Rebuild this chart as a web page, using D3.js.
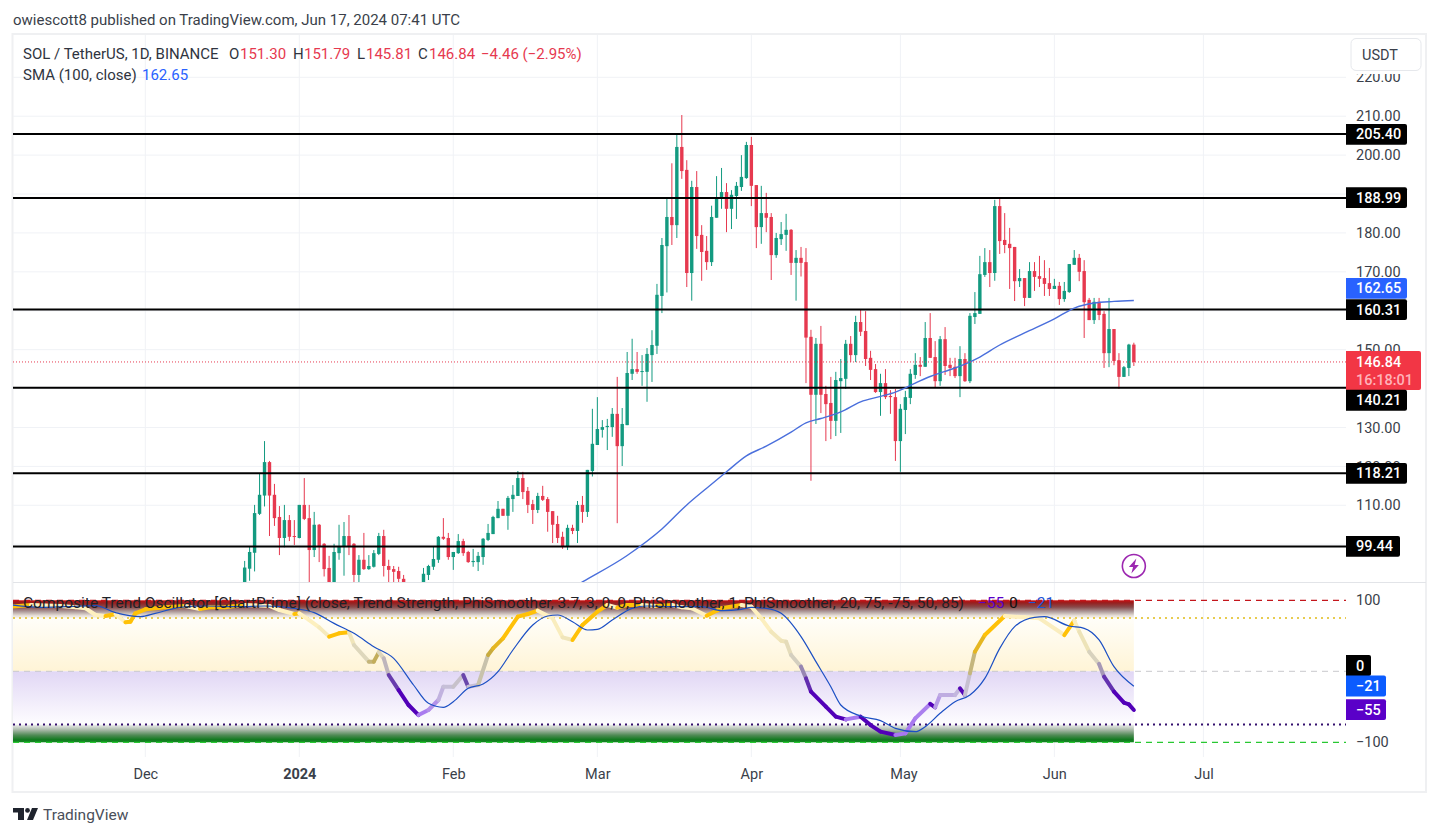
<!DOCTYPE html>
<html><head><meta charset="utf-8">
<script src="https://cdn.jsdelivr.net/npm/d3@7"></script>
<style>
html,body{margin:0;padding:0;background:#fff;overflow:hidden}
svg{display:block}
text{font-family:Roboto,"Noto Sans",sans-serif}
</style></head><body>
<svg id="c" width="1439" height="836"></svg>
<script>
// ---------- data: daily candles, first day = firstCandleDay, day numbers counted from 2024-01-01
const firstCandleDay = -11;
const opens = [88.2,93.7,97.8,107.8,112.5,121.1,112.7,107.0,101.6,106.2,102.1,
101.6,110.1,106.7,98.5,105.0,100.1,93.9,89.1,97.7,99.3,
102.1,100.1,92.1,96.0,93.6,94.2,97.5,102.1,94.4,93.6,
93.1,91.1,89.1,87.5,85.5,86.5,92.1,94.2,96.0,101.9,
101.6,96.7,97.7,100.8,98.0,95.4,95.4,96.7,101.1,102.6,
106.7,109.1,107.3,111.6,112.4,117.0,113.7,110.3,108.8,112.4,
111.6,108.5,105.2,101.9,99.5,104.2,103.4,110.1,108.3,118.8,
125.5,129.4,130.1,130.1,133.5,125.2,130.6,143.8,145.0,144.3,
144.3,148.6,151.0,163.8,176.6,184.1,182.0,202.1,196.2,169.7,
191.8,179.5,175.4,172.5,183.9,189.0,190.5,186.2,189.5,191.8,
194.1,202.6,192.3,181.5,185.1,184.1,174.3,178.4,179.5,180.8,
172.3,173.6,172.5,153.3,138.4,151.5,138.6,136.3,131.7,141.9,
142.5,151.5,148.6,157.1,154.8,147.9,145.0,139.1,141.4,138.1,
137.8,126.5,134.5,137.6,143.5,146.1,145.6,153.0,148.1,141.9,
152.7,146.1,145.6,143.2,147.6,141.9,158.4,159.2,169.2,172.5,
169.7,186.9,178.2,177.2,176.4,167.6,168.4,163.3,170.2,168.9,
168.4,167.1,165.6,166.4,163.0,164.8,171.8,173.6,170.2,162.8,
157.6,162.3,159.2,149.1,155.3,147.3,143.0,145.3,151.30];
const highs = [95.7,99.5,110.1,118.2,126.5,121.4,115.5,109.8,110.1,107.5,106.2,
110.1,117.0,110.1,108.3,105.2,100.3,97.0,100.1,105.0,105.7,
107.5,100.3,97.2,102.9,97.2,98.5,102.9,103.7,96.0,94.4,
94.2,92.1,89.5,88.5,87.5,93.9,94.7,99.5,102.1,106.7,
102.9,98.0,102.6,101.4,98.3,98.8,98.0,101.6,105.2,107.3,
111.1,109.1,112.4,115.2,118.8,118.6,114.7,111.4,113.2,115.0,
112.1,108.5,107.3,103.2,105.0,105.0,111.1,112.4,119.1,134.8,
137.8,131.9,132.2,135.0,143.0,135.0,149.4,152.8,149.4,148.6,
150.4,155.0,166.9,178.7,189.2,197.9,205.4,210.3,198.7,193.4,
195.9,182.0,179.2,187.0,194.6,196.7,192.8,191.0,193.1,200.0,
203.4,204.7,192.3,192.1,190.3,185.1,180.0,182.8,184.9,181.0,
175.6,176.4,176.1,155.1,153.0,156.1,140.7,143.0,144.3,147.6,
152.5,153.5,158.7,160.2,159.9,149.7,146.3,143.8,145.0,139.6,
139.9,136.0,139.4,145.0,149.1,148.1,157.1,159.4,152.2,153.5,
155.8,147.9,147.9,150.9,149.1,159.4,164.8,174.1,176.1,175.6,
188.5,189.0,185.1,181.3,176.4,170.7,168.4,172.5,172.5,174.1,
173.0,171.0,168.2,167.4,167.4,172.0,175.6,174.6,173.0,163.3,
163.3,163.3,159.9,163.3,155.3,149.1,145.8,151.5,151.79];
const lows = [86.5,90.6,93.0,107.5,109.7,102.1,104.7,97.2,99.2,100.8,99.8,
101.5,106.2,88.2,96.7,95.4,91.7,86.5,87.4,96.0,91.9,
97.2,89.1,89.1,93.4,93.4,94.0,97.2,91.7,89.5,90.0,
89.5,87.8,86.5,84.5,84.0,85.0,90.8,93.4,95.2,101.1,
96.0,93.4,97.5,97.0,95.2,94.2,93.1,94.7,100.8,102.6,
106.7,107.3,103.7,108.3,112.4,111.6,108.0,105.2,108.0,111.1,
103.2,100.3,100.3,98.8,98.5,102.6,100.3,105.5,107.0,117.4,
125.5,127.4,124.2,127.6,105.4,120.1,130.6,142.2,143.8,140.7,
136.6,141.7,148.9,159.4,164.7,176.9,178.7,193.9,166.1,162.6,
175.9,167.7,170.5,171.5,183.9,186.2,180.2,181.0,183.6,190.8,
193.9,186.9,176.1,177.2,180.2,167.9,173.6,176.9,175.4,169.2,
162.6,168.8,141.4,116.3,130.9,133.7,126.5,127.0,127.8,128.6,
139.9,146.8,146.8,153.5,145.8,142.2,138.9,133.0,137.3,133.5,
121.4,118.6,128.3,136.0,142.5,143.2,145.6,147.9,140.2,140.7,
143.5,143.2,142.7,137.8,141.7,141.4,156.6,159.2,168.7,166.1,
167.7,174.6,174.8,165.6,162.5,166.1,161.2,163.3,165.1,166.1,
163.8,163.8,165.6,161.5,162.3,164.6,171.8,167.6,153.0,157.6,
156.6,157.6,145.3,145.5,146.0,139.9,143.0,143.2,145.81];
const closes = [94.0,98.0,108.0,112.7,121.1,112.5,106.7,101.6,106.2,101.9,101.9,
110.1,106.5,98.5,105.0,99.5,93.6,88.2,98.0,99.5,102.1,
99.5,92.1,96.0,93.6,94.4,97.7,102.1,94.4,93.4,92.9,
91.1,89.1,87.5,86.0,86.5,92.4,94.4,96.2,101.9,101.4,
96.7,98.0,100.8,97.7,95.4,95.7,97.0,101.4,102.9,107.0,
109.1,107.3,111.9,112.7,117.0,113.4,110.1,108.8,112.4,111.4,
108.3,105.0,101.6,99.3,104.2,103.4,110.1,108.3,119.1,125.8,
129.6,130.1,130.4,133.5,125.2,130.9,144.0,145.0,144.3,144.5,
148.9,151.2,164.1,176.9,184.1,182.0,202.1,195.9,169.7,191.8,
179.2,175.1,172.5,184.1,189.2,190.5,186.2,189.8,192.1,194.4,
202.6,192.1,181.5,185.1,183.9,174.3,178.7,179.7,180.8,172.3,
173.6,172.3,153.1,138.4,151.5,138.4,136.0,131.7,142.2,142.7,
151.5,148.6,157.1,154.6,147.6,144.8,139.1,141.4,137.8,137.8,
126.5,134.8,137.8,143.8,146.1,145.6,153.0,147.9,141.9,152.7,
145.8,145.3,143.2,147.6,141.9,158.7,159.4,169.4,172.5,169.7,
186.9,177.9,176.9,176.1,167.6,168.4,163.3,170.2,168.7,168.2,
166.9,165.6,166.4,163.0,165.1,172.0,173.6,170.0,162.2,157.6,
162.3,158.9,149.1,155.3,147.1,143.0,145.5,151.3,146.84];

const smaDays =   [50,57,66,73,78,82,86,90,94,99,102,105,109,113,117,120,124,127,130,134,137,141,146,152,156,160,164,168];
const smaValues = [85.0,90.3,97.1,103.9,110.1,114.4,118.6,122.7,125.2,128.8,131.2,132.3,134.0,136.6,138.0,139.1,141.4,143.1,144.4,146.3,148.1,151.2,154.3,157.9,160.7,162.0,162.4,162.65];

const oscDays = [-58,-54,-48,-45,-43,-41,-39,-37,-35,-34,-33,-31,-27,-23,-20,-18,-15,-11,-6,-4,-1,0,2,4,6,8,10,11,14,15,16,17,18,20,22,24,26,28,29,31,33,34,36,38,39,41,44,46,48,51,53,55,57,60,62,64,66,69,72,75,77,79,82,84,85,89,91,93,95,97,98,99,101,102,103,106,108,110,113,115,117,120,122,124,127,128,129,132,133,134,135,136,138,142,146,149,154,156,157,159,161,162,164,166,167,168];
const oscValues = [91,93.4,92,90.1,88.7,79.3,77.9,80.7,69,69.9,81.6,87.3,90.1,92,87.7,90.1,90.1,93.4,92,86.3,80.7,81.6,72.2,61.9,48.8,53.5,54.9,37,13.6,13.6,26.7,18.2,-5.2,-26.4,-47.5,-61.6,-54.5,-40.4,-21.7,-21.7,-5.2,-21.7,-19.3,23,32.3,46.4,77,80.7,85.4,74.6,47.8,44.1,65.2,84,93.4,89.6,93.4,93.4,92,93.4,90.1,88.7,78.3,85.4,88.7,93.4,91,74.6,55.8,43.1,41.7,23,6.5,-9.9,-28.7,-49.8,-63.9,-67.7,-63.9,-75.7,-85,-89.7,-87.4,-66.3,-46,-50.8,-33.4,-33.4,-24,-33.4,-2.9,27.6,51.1,77.9,76,74.6,51.1,71.3,55.8,27.6,10.3,-7.6,-28.7,-44.2,-46.5,-54.5];
const sigDays = [-58,-52,-47,-41,-37,-32,-29,-24,-19,-12,-7,-1,3,7,11,15,19,23,26,29,31,34,37,40,43,47,50,52,55,58,60,63,67,70,75,81,85,89,91,94,97,101,104,107,109,113,117,120,124,126,129,132,135,138,141,144,148,150,155,158,161,164,168];
const sigValues = [93.4,90.1,91,92.4,82.6,76.9,81.6,90.1,92,91,92,88.7,82.6,67.5,53.5,34.7,18.3,-19.3,-45.1,-50.8,-42.8,-24,-17.9,-0.5,30,65.2,77.9,79.3,69.9,58.2,59.1,72.2,88.7,92,91,91,85.4,87.3,90.1,88.7,81.6,48.8,13.6,-21.7,-47.5,-63,-69.5,-80.3,-85,-78,-59.2,-42.8,-33.4,-9.9,32.3,62.9,76,76.9,63.8,60.5,44.1,6.5,-21];

const levels = [205.40,188.99,160.31,140.21,118.21,99.44];
const gridTicks = [220,210,200,190,180,170,160,150,140,130,120,110,100];
const priceTicks = [220,210,200,180,170,150,130,120,110];
const oscTicks = [100,-100];
const monthDays = [-31,0,31,60,91,121,152,182];
const monthLabels = ["Dec","2024","Feb","Mar","Apr","May","Jun","Jul"];
const title = "owiescott8 published on TradingView.com, Jun 17, 2024 07:41 UTC";
const oscName = "Composite Trend Oscillator [ChartPrime] (close, Trend Strength, PhiSmoother, 3.7, 3, 0, 0, PhiSmoother, 1, PhiSmoother, 20, 75, -75, 50, 85)";

// ---------- scales
const day = i => new Date(Date.UTC(2024,0,1+i));
const L=13, R=1346, PT=35, PB=582, OT=583, OB=757, FR=1426, FB=792;
const x = d3.scaleUtc().domain([day(0),day(182)]).range([299.3,1203.4]);
const y = d3.scaleLinear().domain([220,100]).range([77.3,544.2]);
const yo = d3.scaleLinear().domain([100,-100]).range([600.3,742.3]);
const svg = d3.select("#c");
const UP="#139a80", DN="#e6394f", TXT="#3a3f4a";

const defs = svg.append("defs");
defs.append("clipPath").attr("id","pc").append("rect").attr("x",L).attr("y",PT).attr("width",R-L).attr("height",PB-PT);
defs.append("clipPath").attr("id","oc").append("rect").attr("x",L).attr("y",OT).attr("width",R-L).attr("height",OB-OT);
defs.append("clipPath").attr("id","ac").append("rect").attr("x",R).attr("y",74).attr("width",80).attr("height",PB-74);
function grad(id,stops){
  const g=defs.append("linearGradient").attr("id",id).attr("x1",0).attr("y1",0).attr("x2",0).attr("y2",1);
  stops.forEach(s=>g.append("stop").attr("offset",s[0]).attr("stop-color",s[1]));
}
grad("gTop",[[0,"#c80f0f"],[.15,"#962020"],[.38,"#8a4a4a"],[.62,"#aa9696"],[.85,"#e4dcd4"],[1,"#fbf8f2"]]);
grad("gYel",[[0,"#fffef9"],[1,"#fff4d6"]]);
grad("gPur",[[0,"#e1d7f5"],[1,"#fefdff"]]);
grad("gGrn",[[0,"#f0f0f0"],[.3,"#a9b9a9"],[.6,"#4f8a55"],[.85,"#127a20"],[1,"#0f8a1e"]]);

// ---------- frame
svg.append("rect").attr("x",12.5).attr("y",34).attr("width",FR-12.5).attr("height",FB-34).attr("fill","#fff").attr("stroke","#eff0f2").attr("stroke-width",2);

// ---------- grid
const gx = svg.append("g").attr("stroke","#f0f2f6");
gx.selectAll("line.v").data(monthDays).join("line").attr("class","v").attr("x1",d=>x(day(d))).attr("x2",d=>x(day(d))).attr("y1",PT).attr("y2",OB);
gx.selectAll("line.h").data(gridTicks).join("line").attr("class","h").attr("x1",L).attr("x2",R).attr("y1",d=>y(d)).attr("y2",d=>y(d));

// ---------- candles
const candles = opens.map((o,k)=>({d:firstCandleDay+k,o,h:highs[k],l:lows[k],c:closes[k]}));
const gc = svg.append("g").attr("clip-path","url(#pc)");
gc.selectAll("line.w").data(candles).join("line").attr("class","w")
  .attr("x1",d=>x(day(d.d))).attr("x2",d=>x(day(d.d))).attr("y1",d=>y(d.h)).attr("y2",d=>y(d.l))
  .attr("stroke",d=>d.c>=d.o?UP:DN).attr("stroke-width",1);
gc.selectAll("rect").data(candles).join("rect")
  .attr("x",d=>x(day(d.d))-1.7).attr("width",3.4)
  .attr("y",d=>y(Math.max(d.o,d.c))).attr("height",d=>Math.max(1,Math.abs(y(d.o)-y(d.c))))
  .attr("fill",d=>d.c>=d.o?UP:DN);

// last price dotted
svg.append("line").attr("x1",L).attr("x2",R).attr("y1",y(closes[closes.length-1])).attr("y2",y(closes[closes.length-1]))
  .attr("stroke",DN).attr("stroke-dasharray","1 2").attr("stroke-width",1);
// levels
gc.selectAll("line.lv").data(levels).join("line").attr("class","lv").attr("x1",L).attr("x2",R)
  .attr("y1",d=>y(d)).attr("y2",d=>y(d)).attr("stroke","#000").attr("stroke-width",2);
// SMA
gc.append("path").datum(smaDays.map((d,k)=>[d,smaValues[k]]))
  .attr("fill","none").attr("stroke","#4a6fdc").attr("stroke-width",1.4)
  .attr("d",d3.line().x(d=>x(day(d[0]))).y(d=>y(d[1])).curve(d3.curveMonotoneX));

// ---------- separator
svg.append("line").attr("x1",L).attr("x2",FR).attr("y1",582.5).attr("y2",582.5).attr("stroke","#e2e4e8");

// ---------- price axis
const axP = svg.append("g").attr("clip-path","url(#ac)").append("g").attr("transform",`translate(${R+5},0)`)
  .call(d3.axisRight(y).tickValues(priceTicks).tickFormat(d3.format(".2f")).tickSize(0));
axP.select(".domain").remove();
axP.selectAll("text").attr("font-size",14.5).attr("fill",TXT).attr("font-family","Roboto,sans-serif").attr("x",5);
// oscillator axis
const axO = svg.append("g").attr("transform",`translate(${R+5},0)`)
  .call(d3.axisRight(yo).tickValues(oscTicks).tickFormat(d=>d<0?"\u2212"+(-d):d).tickSize(0));
axO.select(".domain").remove();
axO.selectAll("text").attr("font-size",14.5).attr("fill",TXT).attr("font-family","Roboto,sans-serif").attr("x",5);
// time axis
const axT = svg.append("g").attr("transform",`translate(0,${OB+6})`)
  .call(d3.axisBottom(x).tickValues(monthDays.map(day)).tickFormat((d,k)=>monthLabels[k]).tickSize(0));
axT.select(".domain").remove();
axT.selectAll("text").attr("font-size",14.5).attr("fill",TXT).attr("font-family","Roboto,sans-serif")
  .attr("font-weight",(d,k)=>monthLabels[k]==="2024"?700:400).attr("y",6)
  .attr("dx",(d,k)=>monthLabels[k]==="May"?3:0);

// ---------- oscillator bands
const bx0=L, bx1=x(day(168));
[["gTop",100,75],["gYel",75,0],["gPur",0,-75],["gGrn",-75,-100]].forEach(b=>{
  svg.append("rect").attr("x",bx0).attr("width",bx1-bx0).attr("y",yo(b[1])).attr("height",yo(b[2])-yo(b[1])).attr("fill",`url(#${b[0]})`);
});
[[100,"#c4161c","6 5",1.2],[75,"#e8cc50","2 4",2],[0,"#c9c9cc","6 5",1],[-75,"#34106e","2 4",2],[-100,"#28c832","6 5",1.2]].forEach(r=>{
  svg.append("line").attr("x1",L).attr("x2",R).attr("y1",yo(r[0])).attr("y2",yo(r[0]))
    .attr("stroke",r[1]).attr("stroke-dasharray",r[2]).attr("stroke-width",r[3]);
});

// ---------- oscillator lines
const rise = d3.scaleLinear().domain([-60,-25,0,25,50]).range(["#a878f0","#c6bedc","#c8c4b4","#c2a845","#ffc107"]).clamp(true);
const fall = d3.scaleLinear().domain([-30,-10,10,40,70]).range(["#5200b8","#6f55a8","#d0cbc0","#ece2b8","#fff1c0"]).clamp(true);
const segs = oscDays.slice(1).map((d,k)=>({d0:oscDays[k],v0:oscValues[k],d1:d,v1:oscValues[k+1]}));
const go = svg.append("g").attr("clip-path","url(#oc)");
go.selectAll("line").data(segs).join("line")
  .attr("x1",d=>x(day(d.d0))).attr("x2",d=>x(day(d.d1))).attr("y1",d=>yo(d.v0)).attr("y2",d=>yo(d.v1))
  .attr("stroke-width",4).attr("stroke-linecap","round")
  .attr("stroke",d=>{const m=(d.v0+d.v1)/2;return d.v1>=d.v0?rise(m):fall(m);});
go.append("path").datum(sigDays.map((d,k)=>[d,sigValues[k]]))
  .attr("fill","none").attr("stroke","#1b4fc4").attr("stroke-width",1.2)
  .attr("d",d3.line().x(d=>x(day(d[0]))).y(d=>yo(d[1])).curve(d3.curveMonotoneX));

// ---------- badges
function badge(cy,w,fill,txt,color){
  const g=svg.append("g");
  g.append("path").attr("d",`M${R},${cy-10.4}H${R+w-2}q2,0 2,2V${cy+8.4}q0,2 -2,2H${R}Z`).attr("fill",fill);
  g.append("text").attr("x",R+10).attr("y",cy+5).attr("font-size",14.5).attr("font-weight",500).attr("fill",color).text(txt);
}
const fmt=d3.format(".2f");
badge(y(205.40)+.3,61,"#000",fmt(205.40),"#fff");
badge(y(188.99)-.3,61,"#000",fmt(188.99),"#fff");
badge(y(162.65)-12,61,"#2962ff",fmt(162.65),"#fff");
badge(y(160.31),61,"#000",fmt(160.31),"#fff");
// last price badge
svg.append("path").attr("d",`M${R},351H${FR-7}q2,0 2,2V388q0,2 -2,2H${R}Z`).attr("fill","#f23645");
svg.append("text").attr("x",R+10).attr("y",367).attr("font-size",14.5).attr("font-weight",500).attr("fill","#fff").text(fmt(146.84));
svg.append("text").attr("x",R+10).attr("y",385).attr("font-size",14.5).attr("font-weight",500).attr("fill","#ffb3ba").text("16:18:01");
badge(y(140.21)+12.5,61,"#000",fmt(140.21),"#fff");
badge(y(118.21),61,"#000",fmt(118.21),"#fff");
badge(y(99.44),54,"#000",fmt(99.44),"#fff");
badge(yo(0)-5.8,25,"#000","0","#fff");
badge(yo(-21)-.2,40,"#0b5cff","\u221221","#fff");
badge(yo(-55)-.8,40,"#5a00c8","\u221255","#fff");

// ---------- USDT button
svg.append("rect").attr("x",1351).attr("y",38.5).attr("width",70).attr("height",32).attr("rx",5).attr("fill","#fff").attr("stroke","#e6e8ec");
svg.append("text").attr("x",1362).attr("y",60).attr("font-size",14.5).attr("fill",TXT).text("USDT");

// ---------- legends
svg.append("text").attr("x",13).attr("y",25).attr("font-size",15).attr("fill","#3a3f4a").text(title);
const lg = svg.append("text").attr("y",59).attr("font-size",15).attr("fill","#2f3440");
[["SOL / TetherUS, 1D, BINANCE",23,null],["O",229,null],["151.30",240,DN],["H",293,null],["151.79",304,DN],["L",357,null],["145.81",366,DN],["C",418,null],["146.84",429,DN],["\u22124.46 (\u22122.95%)",481,DN]]
  .forEach(p=>lg.append("tspan").attr("x",p[1]).attr("fill",p[2]||"#2f3440").text(p[0]));
const lg2 = svg.append("text").attr("y",80).attr("font-size",15).attr("fill","#2f3440");
lg2.append("tspan").attr("x",23).text("SMA (100, close)");
lg2.append("tspan").attr("x",142).attr("fill","#2962ff").text("162.65");
const lg3 = svg.append("text").attr("y",608).attr("font-size",15.5).attr("fill","#1f2228");
lg3.append("tspan").attr("x",23).text(oscName);
lg3.append("tspan").attr("x",978).attr("fill","#5a00c8").text("\u221255");
lg3.append("tspan").attr("x",1009).attr("fill","#111").text("0");
lg3.append("tspan").attr("x",1028).attr("fill","#1c55d8").text("\u221221");

// ---------- lightning icon
const ic = svg.append("g").attr("transform",`translate(${x(day(168))},566)`);
ic.append("circle").attr("r",11.5).attr("fill","#fff").attr("stroke","#9c27b0").attr("stroke-width",1.6);
ic.append("path").attr("d","M2.5,-7.5L-5,1H-0.8L-2.5,7.5L5,-1H0.8Z").attr("fill","#9c27b0");

// ---------- logo
const lo = svg.append("g").attr("transform","translate(13,808)").attr("fill","#1f232d");
lo.append("path").attr("d","M0,0H11V12H5V4.6H0Z");
lo.append("circle").attr("cx",14.5).attr("cy",2.4).attr("r",2.4);
lo.append("path").attr("d","M19,0H25L20,12H14Z");
svg.append("text").attr("x",43).attr("y",820).attr("font-size",15.5).attr("fill","#4a4f5a").text("TradingView");
</script>
</body></html>
